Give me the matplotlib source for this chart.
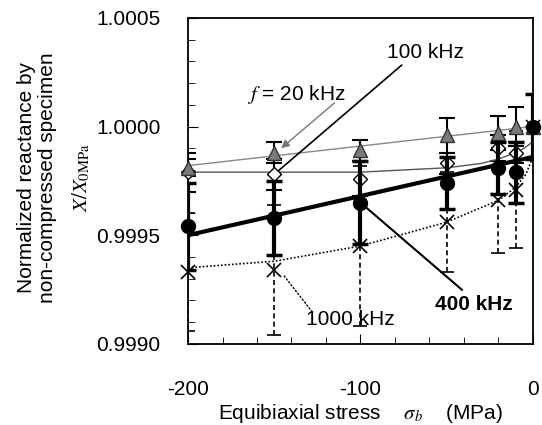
import matplotlib
matplotlib.use("Agg")
from matplotlib import pyplot as plt
from matplotlib.ticker import MultipleLocator, FormatStrFormatter

plt.rcParams['font.family'] = ['Liberation Sans', 'DejaVu Sans']
plt.rcParams['mathtext.fontset'] = 'stix'
plt.rcParams['axes.unicode_minus'] = False

# stress values (MPa)
stress = [-200, -150, -100, -50, -20, -10, 0]

# normalized reactance per frequency, with error half-widths
x20 = [0.99981, 0.99988, 0.99989, 0.99996, 0.99997, 1.00000, 1.00000]
e20 = [0.00004, 0.00005, 0.00005, 0.00008, 0.00008, 0.00009, 0.0]
x100 = [0.99979, 0.99978, 0.99976, 0.99983, 0.99990, 0.99988, 1.00000]
e100 = [0.00009, 0.00007, 0.00008, 0.00005, 0.00006, 0.00005, 0.0]
x400 = [0.99954, 0.99958, 0.99965, 0.99974, 0.99981, 0.99979, 1.00000]
e400 = [0.00020, 0.00017, 0.00019, 0.00012, 0.00012, 0.00014, 0.00015]
x1000 = [0.99933, 0.99934, 0.99945, 0.99956, 0.99966, 0.99971, 1.00000]
e1000 = [0.00027, 0.00030, 0.00037, 0.00023, 0.00024, 0.00027, 0.0]

# fitted trend curves
fit20_x = [-200, 0]
fit20_y = [0.99982, 1.00000]
fit100_x = [-200, -150, -100, -50, -30, -20, -10, -5, 0]
fit100_y = [0.99979, 0.99979, 0.99979, 0.99981, 0.99983, 0.99985, 0.99988, 0.99990, 0.99993]
fit400_x = [-200, 0]
fit400_y = [0.99950, 0.99986]
fit1000_x = [-200, -150, -100, -50, -20, -10, -4, -1, 0]
fit1000_y = [0.99935, 0.99938, 0.99945, 0.99956, 0.99966, 0.99972, 0.99978, 0.99984, 0.99988]

fig = plt.figure(figsize=(5.42, 4.25), dpi=100)
ax = fig.add_axes([0.347, 0.191, 0.636, 0.767])

fs = 15

# 1000 kHz
eb = ax.errorbar(stress, x1000, yerr=e1000, fmt='none', ecolor='black',
                 elinewidth=1.2, capsize=5, capthick=1.2, zorder=2)
eb[2][0].set_linestyle((0, (3, 2)))
ax.plot(fit1000_x, fit1000_y, color='black', lw=1.2, ls=(0, (1, 1.2)), zorder=2)
ax.plot(stress, x1000, 'x', color='black', ms=10, mew=1.2, zorder=3, clip_on=False)

# 100 kHz
ax.errorbar(stress, x100, yerr=e100, fmt='none', ecolor='black',
            elinewidth=1.5, capsize=6, capthick=1.5, zorder=3)
ax.plot(fit100_x, fit100_y, color='#555555', lw=1.0, zorder=3)
ax.plot(stress, x100, 'D', color='black', mfc='white', ms=7, mew=1.0, zorder=4, clip_on=False)

# 20 kHz
ax.errorbar(stress, x20, yerr=e20, fmt='none', ecolor='black',
            elinewidth=1.5, capsize=6, capthick=1.5, zorder=3)
ax.plot(fit20_x, fit20_y, color='#888888', lw=1.0, zorder=3)
ax.plot(stress, x20, '^', color='#333333', mfc='#7a7a7a', ms=10, mew=1.0, zorder=4, clip_on=False)

# 400 kHz
ax.errorbar(stress, x400, yerr=e400, fmt='none', ecolor='black',
            elinewidth=3, capsize=6, capthick=2.5, zorder=5)
ax.plot(fit400_x, fit400_y, color='black', lw=3, zorder=5)
ax.plot(stress, x400, 'o', color='black', ms=10, zorder=6, clip_on=False)

ax.set_xlim(-200, 0)
ax.set_ylim(0.9990, 1.0005)
ax.xaxis.set_major_locator(MultipleLocator(100))
ax.xaxis.set_minor_locator(MultipleLocator(20))
ax.yaxis.set_major_locator(MultipleLocator(0.0005))
ax.yaxis.set_minor_locator(MultipleLocator(0.0001))
ax.yaxis.set_major_formatter(FormatStrFormatter('%.4f'))
ax.tick_params(which='both', direction='in', labelsize=fs)
ax.tick_params(axis='y', which='major', length=7, pad=20)
ax.tick_params(axis='x', which='major', length=7, pad=26)
ax.tick_params(which='minor', length=5)
for s in ax.spines.values():
    s.set_linewidth(1.3)

# annotation texts
ax.text(-62, 1.00034, '100 kHz', fontsize=fs, ha='center', va='center')
ax.text(-137, 1.000145, r'$f$ = 20 kHz', fontsize=fs, ha='center', va='center')
ax.text(-34, 0.99918, '400 kHz', fontsize=fs, fontweight='bold', ha='center', va='center')
ax.text(-106, 0.99911, '1000 kHz', fontsize=fs, ha='center', va='center')

# leader lines
ax.annotate('', xy=(-150, 0.99978), xytext=(-76, 1.000283),
            arrowprops=dict(arrowstyle='-', color='black', lw=1.2,
                            shrinkA=0, shrinkB=0))
ax.annotate('', xy=(-146, 0.99990), xytext=(-115, 1.000109),
            arrowprops=dict(arrowstyle='-|>', color='#777777', lw=1.0,
                            mutation_scale=12, shrinkA=0, shrinkB=0))
ax.annotate('', xy=(-100, 0.99965), xytext=(-41, 0.999248),
            arrowprops=dict(arrowstyle='-', color='black', lw=1.5,
                            shrinkA=0, shrinkB=0))
ax.annotate('', xy=(-145, 0.99932), xytext=(-128, 0.999147),
            arrowprops=dict(arrowstyle='-', color='black', lw=1.0, ls=':',
                            shrinkA=0, shrinkB=0))

ax.set_xlabel(r'Equibiaxial stress    $\sigma_b$    (MPa)', fontsize=fs, labelpad=2)

fig.text(0.068, 0.583, 'Normalized reactance by\nnon-compressed specimen',
         rotation=90, ha='center', va='center', fontsize=fs, linespacing=1.1)
fig.text(0.150, 0.583, r'$X/X_{\mathrm{0MPa}}$', rotation=90,
         ha='center', va='center', fontsize=fs)

fig.savefig('out.png', dpi=100)
